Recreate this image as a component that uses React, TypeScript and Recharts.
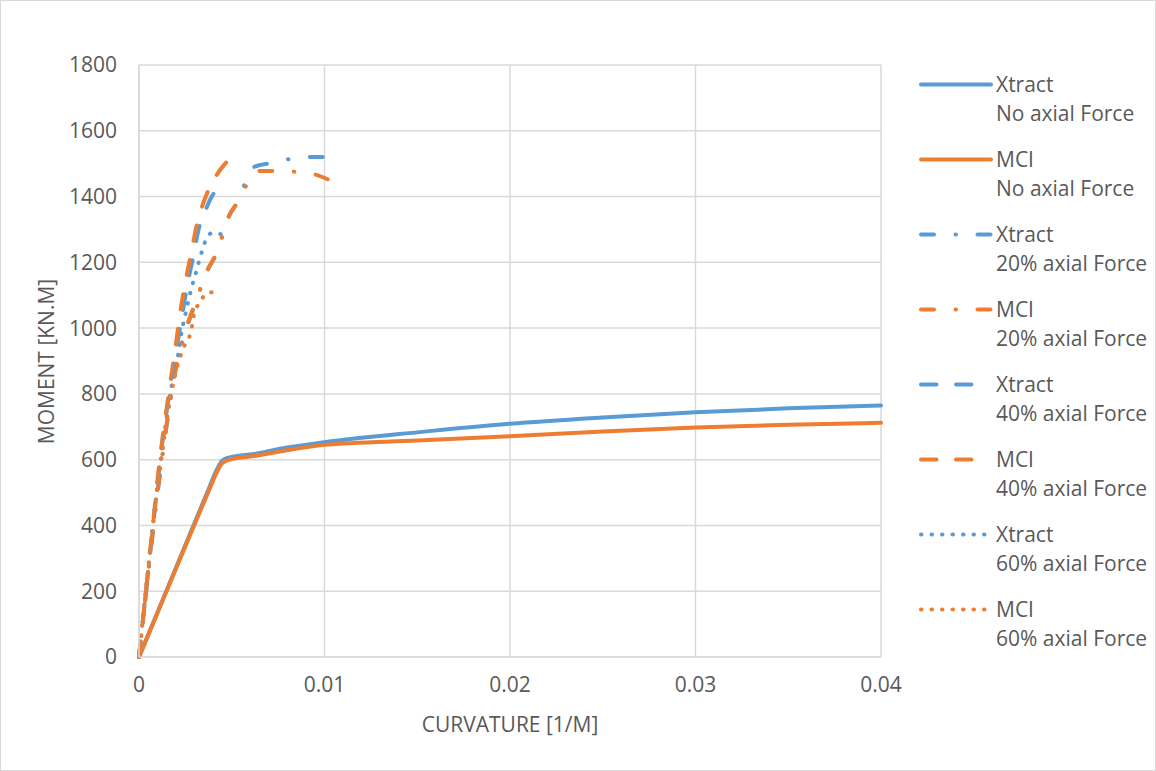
import { LineChart, Line, XAxis, YAxis, CartesianGrid, Label } from "recharts";

const BLUE = "#5B9BD5";
const ORANGE = "#ED7D31";
const TEXT = "#595959";
const GRID = "#D9D9D9";
const FONT = '"Open Sans", "Noto Sans", sans-serif';
const FS = 21;
const SW = 4;

const xTicks = [0, 0.01, 0.02, 0.03, 0.04];
const yTicks = [0, 200, 400, 600, 800, 1000, 1200, 1400, 1600, 1800];

// curvature [1/m] , moment [kN.m]
const xtractNone = [
  { x: 0, y: 0 }, { x: 0.002, y: 272 }, { x: 0.0038, y: 517 }, { x: 0.0042, y: 570 },
  { x: 0.0045, y: 598 }, { x: 0.005, y: 608 }, { x: 0.0062, y: 617 }, { x: 0.0076, y: 633 },
  { x: 0.01, y: 653 }, { x: 0.015, y: 683 }, { x: 0.02, y: 709 }, { x: 0.025, y: 728 },
  { x: 0.03, y: 744 }, { x: 0.035, y: 756 }, { x: 0.04, y: 765 },
];
const mciNone = [
  { x: 0, y: 0 }, { x: 0.002, y: 270 }, { x: 0.0038, y: 510 }, { x: 0.0042, y: 562 },
  { x: 0.0045, y: 590 }, { x: 0.005, y: 602 }, { x: 0.0062, y: 611 }, { x: 0.0076, y: 625 },
  { x: 0.01, y: 645 }, { x: 0.015, y: 658 }, { x: 0.02, y: 671 }, { x: 0.025, y: 686 },
  { x: 0.03, y: 698 }, { x: 0.035, y: 706 }, { x: 0.04, y: 712 },
];
const xtract20 = [
  { x: 0, y: 0 }, { x: 0.0004, y: 205 }, { x: 0.0008, y: 405 }, { x: 0.0012, y: 585 },
  { x: 0.0016, y: 745 }, { x: 0.002, y: 880 }, { x: 0.00265, y: 1014 }, { x: 0.003, y: 1069 },
  { x: 0.0037, y: 1176 }, { x: 0.0042, y: 1230 }, { x: 0.0045, y: 1280 }, { x: 0.0048, y: 1334 },
  { x: 0.0053, y: 1383 }, { x: 0.0057, y: 1438 }, { x: 0.0062, y: 1490 }, { x: 0.0071, y: 1502 },
  { x: 0.0081, y: 1514 }, { x: 0.0091, y: 1520 }, { x: 0.01, y: 1520 },
];
const mci20 = [
  { x: 0, y: 0 }, { x: 0.0004, y: 210 }, { x: 0.0008, y: 410 }, { x: 0.0012, y: 590 },
  { x: 0.0016, y: 750 }, { x: 0.002, y: 885 }, { x: 0.00265, y: 1018 }, { x: 0.003, y: 1072 },
  { x: 0.0037, y: 1178 }, { x: 0.0042, y: 1232 }, { x: 0.0045, y: 1282 }, { x: 0.0048, y: 1334 },
  { x: 0.0053, y: 1382 }, { x: 0.0058, y: 1435 }, { x: 0.0064, y: 1478 }, { x: 0.0074, y: 1478 },
  { x: 0.0085, y: 1475 }, { x: 0.0095, y: 1467 }, { x: 0.0104, y: 1447 },
];
const xtract40 = [
  { x: 0, y: 0 }, { x: 0.0004, y: 210 }, { x: 0.0008, y: 420 }, { x: 0.0011, y: 580 },
  { x: 0.0013, y: 670 }, { x: 0.0015, y: 750 }, { x: 0.0017, y: 830 }, { x: 0.002, y: 930 },
  { x: 0.0023, y: 1030 }, { x: 0.0026, y: 1130 }, { x: 0.0029, y: 1210 }, { x: 0.0032, y: 1297 },
  { x: 0.0035, y: 1345 }, { x: 0.0039, y: 1398 }, { x: 0.0045, y: 1432 },
];
const mci40 = [
  { x: 0, y: 0 }, { x: 0.0004, y: 215 }, { x: 0.0008, y: 430 }, { x: 0.0011, y: 590 },
  { x: 0.0013, y: 680 }, { x: 0.0015, y: 760 }, { x: 0.0017, y: 840 }, { x: 0.00194, y: 930 },
  { x: 0.0022, y: 1040 }, { x: 0.0025, y: 1140 }, { x: 0.0028, y: 1225 }, { x: 0.0031, y: 1310 },
  { x: 0.0036, y: 1400 }, { x: 0.004, y: 1448 }, { x: 0.0046, y: 1497 }, { x: 0.0052, y: 1528 },
];
const xtract60 = [
  { x: 0, y: 0 }, { x: 0.0004, y: 220 }, { x: 0.0008, y: 430 }, { x: 0.0012, y: 610 },
  { x: 0.0016, y: 770 }, { x: 0.0019, y: 870 }, { x: 0.00217, y: 937 }, { x: 0.0023, y: 988 },
  { x: 0.00254, y: 1052 }, { x: 0.00279, y: 1113 }, { x: 0.00308, y: 1171 }, { x: 0.00338, y: 1231 },
  { x: 0.00356, y: 1262 }, { x: 0.0039, y: 1288 }, { x: 0.0045, y: 1285 },
];
const mci60 = [
  { x: 0, y: 0 }, { x: 0.0004, y: 215 }, { x: 0.0008, y: 420 }, { x: 0.0012, y: 600 },
  { x: 0.0016, y: 755 }, { x: 0.002, y: 870 }, { x: 0.0024, y: 940 }, { x: 0.0028, y: 990 },
  { x: 0.003, y: 1050 }, { x: 0.0033, y: 1078 }, { x: 0.0036, y: 1105 }, { x: 0.0042, y: 1110 },
  { x: 0.0043, y: 1108 },
];

const DASH_DOT = "13 21.5 0.5 21.5";
const DASH = "15.5 19.5";
const DOT = "0.5 10";

const series = [
  { name: "Xtract", sub: "No axial Force", data: xtractNone, color: BLUE, dash: undefined, len: 70 },
  { name: "MCI", sub: "No axial Force", data: mciNone, color: ORANGE, dash: undefined, len: 70 },
  { name: "Xtract", sub: "20% axial Force", data: xtract20, color: BLUE, dash: DASH_DOT, len: 70 },
  { name: "MCI", sub: "20% axial Force", data: mci20, color: ORANGE, dash: DASH_DOT, len: 70 },
  { name: "Xtract", sub: "40% axial Force", data: xtract40, color: BLUE, dash: DASH, len: 56 },
  { name: "MCI", sub: "40% axial Force", data: mci40, color: ORANGE, dash: DASH, len: 56 },
  { name: "Xtract", sub: "60% axial Force", data: xtract60, color: BLUE, dash: DOT, len: 64 },
  { name: "MCI", sub: "60% axial Force", data: mci60, color: ORANGE, dash: DOT, len: 64 },
];

function LegendBox() {
  return (
    <div
      style={{
        position: "absolute", left: 917, top: 69,
        fontFamily: FONT, fontSize: FS, color: TEXT,
      }}
    >
      {series.map((s, i) => (
        <div key={i} style={{ display: "flex", height: 75 }}>
          <svg width={78} height={29} style={{ flex: "none" }}>
            <line
              x1={3} y1={14.5} x2={3 + s.len} y2={14.5}
              stroke={s.color} strokeWidth={SW} strokeLinecap="round"
              strokeDasharray={s.dash}
            />
          </svg>
          <div style={{ lineHeight: "29px", whiteSpace: "nowrap" }}>
            <div>{s.name}</div>
            <div>{s.sub}</div>
          </div>
        </div>
      ))}
    </div>
  );
}

function YTitle() {
  return (
    <text
      x={45}
      y={360.5}
      transform="rotate(-90 45 360.5)"
      textAnchor="middle"
      dominantBaseline="central"
      fill={TEXT}
      fontSize={FS}
      fontFamily={FONT}
    >
      MOMENT [KN.M]
    </text>
  );
}

export default function App() {
  return (
    <div
      style={{
        position: "absolute", left: 0, top: 0, width: 1154, height: 769,
        border: `1px solid ${GRID}`, background: "#fff",
      }}
    >
      <LineChart
        width={1154}
        height={769}
        margin={{ top: 64, right: 274, bottom: 73, left: 78 }}
      >
        <CartesianGrid stroke={GRID} strokeWidth={1.5} />
        <XAxis
          type="number"
          dataKey="x"
          domain={[0, 0.04]}
          ticks={xTicks}
          tickFormatter={(v) => String(v)}
          stroke={GRID}
          strokeWidth={1.5}
          tickLine={false}
          tickSize={0}
          tickMargin={20}
          height={40}
          tick={{ fill: TEXT, fontSize: FS, fontFamily: FONT }}
        >
          <Label
            value="CURVATURE [1/M]"
            position="bottom"
            offset={20}
            style={{ fill: TEXT, fontSize: FS, fontFamily: FONT }}
          />
        </XAxis>
        <YAxis
          type="number"
          dataKey="y"
          domain={[0, 1800]}
          ticks={yTicks}
          stroke={GRID}
          strokeWidth={1.5}
          tickLine={false}
          tickSize={0}
          tickMargin={22}
          width={60}
          tick={{ fill: TEXT, fontSize: FS, fontFamily: FONT }}
        >
          <Label content={<YTitle />} />
        </YAxis>
        {series.map((s, i) => (
          <Line
            key={i}
            data={s.data}
            dataKey="y"
            type="monotone"
            stroke={s.color}
            strokeWidth={SW}
            strokeLinecap="round"
            strokeDasharray={s.dash}
            dot={false}
            activeDot={false}
            isAnimationActive={false}
          />
        ))}
      </LineChart>
      <LegendBox />
    </div>
  );
}
